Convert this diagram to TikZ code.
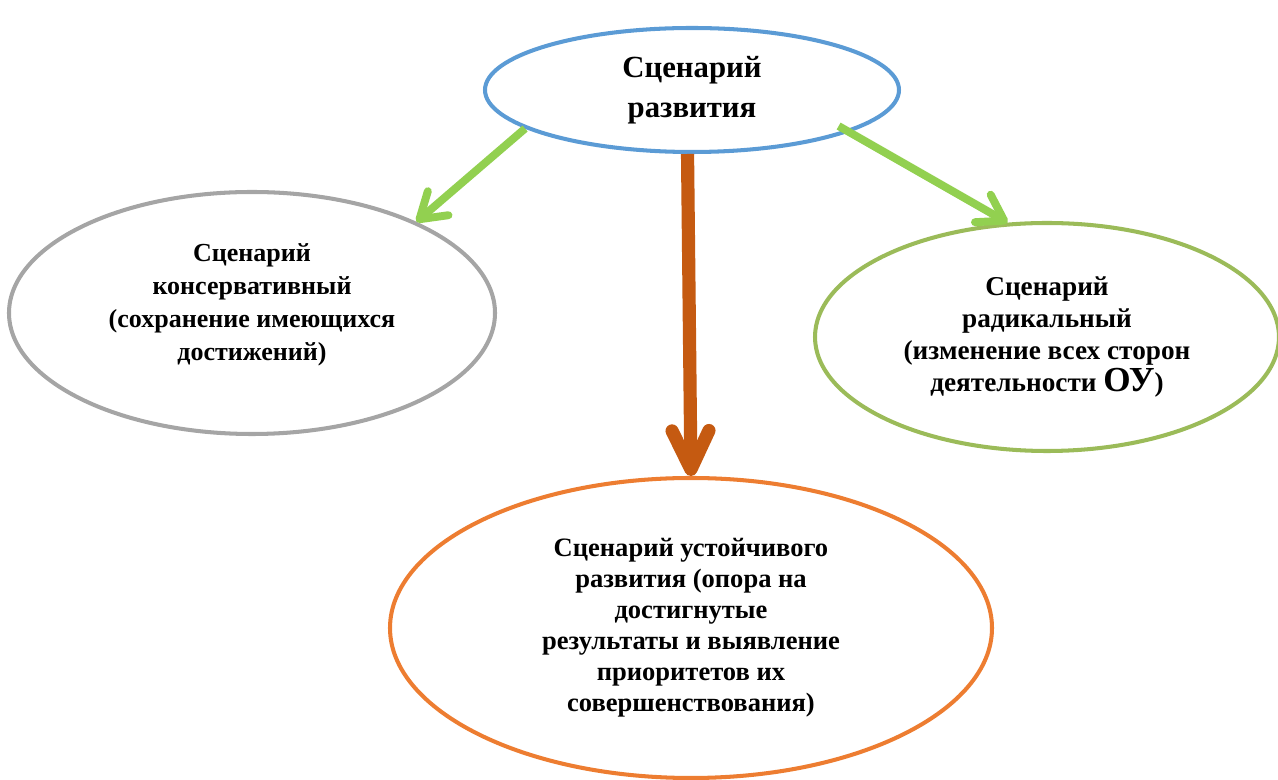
\documentclass[tikz,border=0pt]{standalone}
\usepackage{fontspec}
\setmainfont{Liberation Serif}
\usetikzlibrary{arrows.meta,shapes.geometric}
\definecolor{topblue}{HTML}{5B9BD5}
\definecolor{consgray}{HTML}{A5A5A5}
\definecolor{radgreen}{HTML}{9BBB59}
\definecolor{sustorange}{HTML}{ED7D31}
\definecolor{arrgreen}{HTML}{92D050}
\definecolor{arrbrown}{HTML}{C55A11}
\begin{document}
\begin{tikzpicture}[
  scen/.style={ellipse,draw,line width=2.3pt,inner sep=0pt,align=center,font=\bfseries},
  greenarrow/.style={draw=arrgreen,line width=4.5pt,
    -{Straight Barb[round,length=14pt,width=18pt]}},
  brownarrow/.style={draw=arrbrown,line width=7.5pt,
    -{Straight Barb[round,length=22pt,width=21pt]}}]
\useasboundingbox (0,0) rectangle (25.56,-15.6);
% ellipses
\node[scen,draw=topblue,minimum width=8.28cm,minimum height=2.48cm,
  font=\bfseries\fontsize{17.5}{22.7}\selectfont] (razv) at (13.84,-1.80)
  {Сценарий\\развития};
\node[scen,draw=consgray,minimum width=9.72cm,minimum height=4.84cm,
  font=\bfseries\fontsize{14.8}{18.7}\selectfont] (kons) at (5.04,-6.26)
  {Сценарий\\консервативный\\(сохранение имеющихся\\достижений)\\[-6pt]};
\node[scen,draw=radgreen,minimum width=9.28cm,minimum height=4.56cm,
  font=\bfseries\fontsize{15.5}{18.2}\selectfont] (radi) at (20.94,-6.74)
  {Сценарий\\радикальный\\(изменение всех сторон\\деятельности {\fontsize{20}{18}\selectfont ОУ})};
\node[scen,draw=sustorange,minimum width=12.04cm,minimum height=6.0cm,
  font=\bfseries\fontsize{15.1}{17.6}\selectfont] (ustoi) at (13.82,-12.56)
  {Сценарий устойчивого\\развития (опора на\\достигнутые\\результаты и выявление\\приоритетов их\\совершенствования)};
% arrows
\draw[greenarrow] (razv.193) -- (kons.29);
\draw[greenarrow,shorten <=-7pt] (razv.345) -- (radi.109);
\draw[brownarrow] (razv.266) -- (ustoi.north);
\end{tikzpicture}
\end{document}
